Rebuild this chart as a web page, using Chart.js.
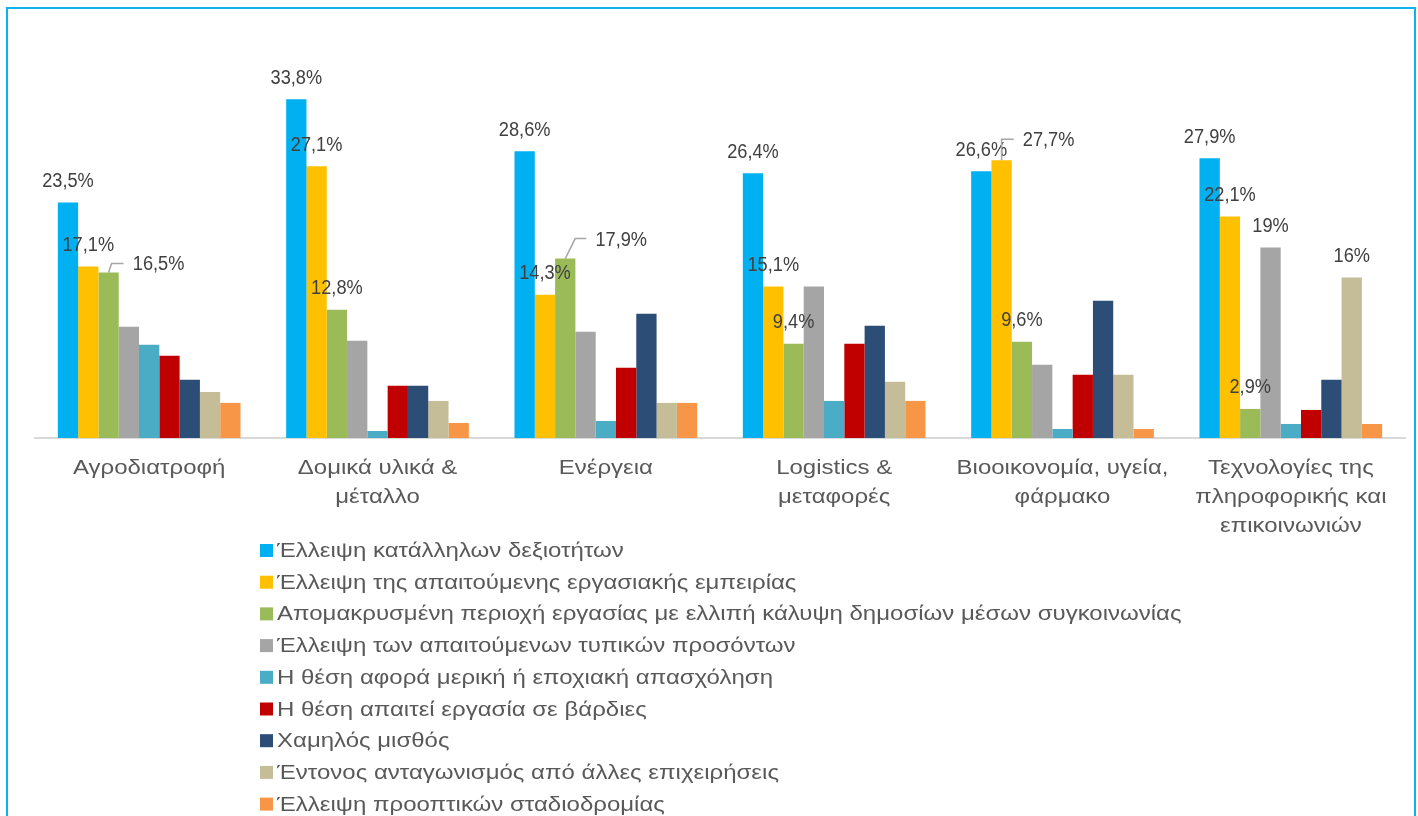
<!DOCTYPE html>
<html>
<head>
<meta charset="utf-8">
<script src="https://cdn.jsdelivr.net/npm/chart.js@4.4.1/dist/chart.umd.min.js"></script>
<style>
  html, body { margin: 0; padding: 0; background: #ffffff; overflow: hidden; }
  #wrap { position: relative; width: 1418px; height: 816px; }
  #wrap canvas { position: absolute; left: 0; top: 0; }
  #frame {
    position: absolute; left: 6px; top: 7px; width: 1410px; height: 840px;
    border: 2px solid #0DB3EF; border-bottom: none; box-sizing: border-box;
    pointer-events: none;
  }
</style>
</head>
<body>
<div id="wrap">
  <canvas id="chart" width="1418" height="816"></canvas>
  <div id="frame"></div>
</div>
<script>
// Sectors (x-axis categories), multi-line where the label wraps
const categories = [
  ['Αγροδιατροφή'],
  ['Δομικά υλικά &', 'μέταλλο'],
  ['Ενέργεια'],
  ['Logistics &', 'μεταφορές'],
  ['Βιοοικονομία, υγεία,', 'φάρμακο'],
  ['Τεχνολογίες της', 'πληροφορικής και', 'επικοινωνιών']
];

// Reasons (series names)
const seriesNames = [
  'Έλλειψη κατάλληλων δεξιοτήτων',
  'Έλλειψη της απαιτούμενης εργασιακής εμπειρίας',
  'Απομακρυσμένη περιοχή εργασίας με ελλιπή κάλυψη δημοσίων μέσων συγκοινωνίας',
  'Έλλειψη των απαιτούμενων τυπικών προσόντων',
  'Η θέση αφορά μερική ή εποχιακή απασχόληση',
  'Η θέση απαιτεί εργασία σε βάρδιες',
  'Χαμηλός μισθός',
  'Έντονος ανταγωνισμός από άλλες επιχειρήσεις',
  'Έλλειψη προοπτικών σταδιοδρομίας'
];

// Shares (%) per sector, one array per reason
const lackSkills       = [23.5, 33.8, 28.6, 26.4, 26.6, 27.9];
const lackExperience   = [17.1, 27.1, 14.3, 15.1, 27.7, 22.1];
const remoteLocation   = [16.5, 12.8, 17.9,  9.4,  9.6,  2.9];
const lackQualifs      = [11.1,  9.7, 10.6, 15.1,  7.3, 19.0];
const partTimeSeasonal = [ 9.3,  0.7,  1.7,  3.7,  0.9,  1.4];
const shiftWork        = [ 8.2,  5.2,  7.0,  9.4,  6.3,  2.8];
const lowPay           = [ 5.8,  5.2, 12.4, 11.2, 13.7,  5.8];
const competition      = [ 4.6,  3.7,  3.5,  5.6,  6.3, 16.0];
const noCareerProspect = [ 3.5,  1.5,  3.5,  3.7,  0.9,  1.4];

const seriesValues = [
  lackSkills, lackExperience, remoteLocation, lackQualifs, partTimeSeasonal,
  shiftWork, lowPay, competition, noCareerProspect
];

const seriesColors = [
  '#00B0F0', '#FFC000', '#9BBB59', '#A5A5A5', '#4BACC6',
  '#C00000', '#2C4D75', '#C4BD97', '#F79646'
];

// Which bars carry a value label: series index -> category indexes
const labelledBars = {
  0: [0, 1, 2, 3, 4, 5],
  1: [0, 1, 2, 3, 4, 5],
  2: [0, 1, 2, 3, 4, 5],
  3: [5],
  7: [5]
};

// Labels moved aside with a leader line (offsets from the bar's top centre)
const movedLabels = [
  { series: 2, index: 0, dx: 50, dy: -8,  leader: [[0, 0], [3, -9], [15, -9]] },
  { series: 2, index: 2, dx: 56, dy: -18, leader: [[0, 0], [10, -20], [21, -20]] },
  { series: 1, index: 4, dx: 47, dy: -20, leader: [[0, 0], [0, -21], [12, -21]] }
];

const FONT = "'Liberation Sans', Arial, sans-serif";
const VALUE_STRETCH = 0.91;  // value labels are set slightly condensed
const TEXT_STRETCH = 1.2;    // category names and legend are set wide

function fmtPercent(v) {
  const s = Number.isInteger(v) ? String(v) : v.toFixed(1).replace('.', ',');
  return s + '%';
}

function drawText(ctx, text, x, y, align, sx) {
  ctx.save();
  ctx.translate(x, y);
  ctx.scale(sx, 1);
  ctx.textAlign = align;
  ctx.textBaseline = 'middle';
  ctx.fillText(text, 0, 0);
  ctx.restore();
}

// Value labels above the bars
const valueLabels = {
  id: 'valueLabels',
  afterDatasetsDraw(chart) {
    const ctx = chart.ctx;
    ctx.save();
    ctx.font = '20px ' + FONT;
    ctx.fillStyle = '#404040';
    Object.keys(labelledBars).forEach(k => {
      const si = Number(k);
      const meta = chart.getDatasetMeta(si);
      labelledBars[k].forEach(ci => {
        const bar = meta.data[ci];
        const value = chart.data.datasets[si].data[ci];
        const moved = movedLabels.find(m => m.series === si && m.index === ci);
        if (moved) {
          ctx.strokeStyle = '#A6A6A6';
          ctx.lineWidth = 1.5;
          ctx.beginPath();
          moved.leader.forEach((p, n) => {
            const px = bar.x + p[0], py = bar.y + p[1];
            if (n === 0) ctx.moveTo(px, py); else ctx.lineTo(px, py);
          });
          ctx.stroke();
          drawText(ctx, fmtPercent(value), bar.x + moved.dx, bar.y + moved.dy, 'center', VALUE_STRETCH);
        } else {
          drawText(ctx, fmtPercent(value), bar.x, bar.y - 21, 'center', VALUE_STRETCH);
        }
      });
    });
    ctx.restore();
  }
};

// Category names under the axis, one line per array entry
const categoryLabels = {
  id: 'categoryLabels',
  afterDraw(chart) {
    const ctx = chart.ctx;
    const xs = chart.scales.x;
    const top = chart.chartArea.bottom + 30.5, lineStep = 29;
    ctx.save();
    ctx.font = '20px ' + FONT;
    ctx.fillStyle = '#595959';
    chart.data.labels.forEach((lines, i) => {
      const cx = xs.getPixelForValue(i);
      lines.forEach((line, n) => drawText(ctx, line, cx, top + n * lineStep, 'center', TEXT_STRETCH));
    });
    ctx.restore();
  }
};

// Single-column legend below the category labels
const columnLegend = {
  id: 'columnLegend',
  afterDraw(chart) {
    const ctx = chart.ctx;
    const left = 260, firstRow = 550.5, step = 31.7, box = 13;
    ctx.save();
    ctx.font = '20px ' + FONT;
    chart.data.datasets.forEach((ds, i) => {
      const cy = firstRow + i * step;
      ctx.fillStyle = ds.backgroundColor;
      ctx.fillRect(left, cy - box / 2, box, box);
      ctx.fillStyle = '#595959';
      drawText(ctx, ds.label, left + box + 4, cy + 1, 'left', TEXT_STRETCH);
    });
    ctx.restore();
  }
};

new Chart(document.getElementById('chart'), {
  type: 'bar',
  data: {
    labels: categories,
    datasets: seriesNames.map((name, i) => ({
      label: name,
      data: seriesValues[i],
      backgroundColor: seriesColors[i],
      borderWidth: 0,
      barPercentage: 1.0,
      categoryPercentage: 0.8
    }))
  },
  options: {
    responsive: false,
    animation: false,
    events: [],
    layout: { padding: { top: 37, left: 35, right: 13, bottom: 0 } },
    plugins: {
      legend: { display: false },
      tooltip: { enabled: false }
    },
    scales: {
      x: {
        grid: { display: false, drawTicks: false },
        border: { display: true, color: '#D9D9D9', width: 2 },
        ticks: { display: false, autoSkip: false, maxRotation: 0, minRotation: 0 },
        afterFit(scale) { scale.height = 378; }
      },
      y: {
        display: false,
        min: 0,
        max: 40
      }
    }
  },
  plugins: [valueLabels, categoryLabels, columnLegend]
});
</script>
</body>
</html>
